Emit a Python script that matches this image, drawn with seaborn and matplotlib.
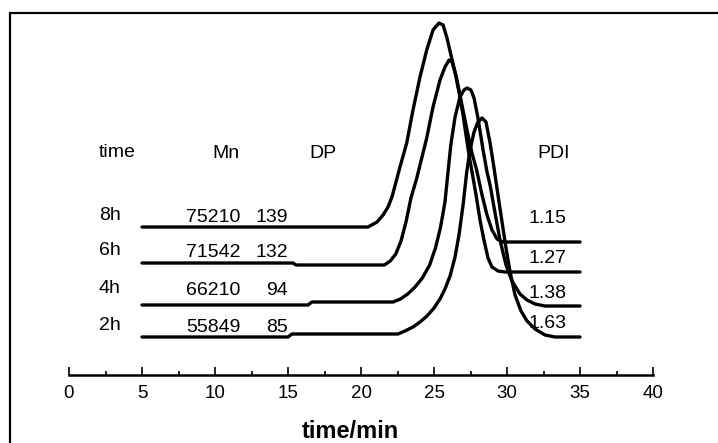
import matplotlib
matplotlib.use("Agg")
import matplotlib.pyplot as plt
from matplotlib.patches import Rectangle
from matplotlib.ticker import MultipleLocator
import seaborn as sns

# GPC traces (x = time/min, y = detector signal, offset per sample)
x_8h = [5.0, 20.48, 21.10, 21.51, 21.85, 22.12, 22.67, 23.13, 23.56, 24.04, 24.50, 24.93, 25.34,
        25.62, 25.89, 26.16, 26.44, 26.71, 26.99, 27.19, 27.40, 27.58, 27.88, 28.15, 28.42, 28.70,
        28.97, 29.38, 29.86, 35.0]
y_8h = [14.8, 14.8, 15.3, 16.0, 16.8, 17.8, 20.8, 23.2, 26.5, 29.8, 32.5, 34.5, 35.2,
        35.0, 33.7, 32.0, 30.3, 28.3, 26.0, 24.0, 22.0, 20.5, 18.0, 15.5, 13.5, 11.7,
        10.8, 10.4, 10.3, 10.3]

x_6h = [5.0, 15.34, 15.55, 21.60, 22.00, 22.38, 22.74, 23.08, 23.42, 23.82, 24.16, 24.50, 24.93,
        25.41, 25.75, 26.03, 26.23, 26.51, 26.78, 27.05, 27.33, 27.60, 27.92, 28.29, 28.63, 28.97,
        29.32, 29.73, 35.0]
y_6h = [11.2, 11.2, 11.0, 11.0, 11.4, 12.1, 13.4, 15.3, 17.7, 19.7, 21.7, 23.7, 26.8,
        29.5, 30.8, 31.5, 31.3, 29.9, 28.0, 26.0, 24.0, 22.2, 20.5, 18.0, 16.0, 14.5,
        13.6, 13.3, 13.3]

x_4h = [5.0, 16.37, 16.64, 22.20, 22.70, 23.20, 23.70, 24.20, 24.70, 25.10, 25.45, 25.75, 25.96,
        26.15, 26.44, 26.78, 27.05, 27.26, 27.53, 27.74, 28.01, 28.36, 28.63, 28.84, 29.18, 29.52,
        29.93, 30.34, 30.89, 31.37, 31.92, 32.60, 35.0]
y_4h = [7.0, 7.0, 7.3, 7.3, 7.6, 8.1, 8.8, 9.7, 11.0, 12.7, 14.8, 17.3, 20.3,
        23.0, 25.8, 27.8, 28.5, 28.7, 28.5, 27.7, 25.7, 22.5, 20.3, 19.0, 16.2, 13.5,
        11.0, 9.4, 8.1, 7.5, 7.1, 6.9, 6.9]

x_2h = [5.0, 15.0, 15.27, 22.53, 23.01, 23.56, 24.04, 24.52, 25.0, 25.41, 25.75, 26.10, 26.44,
        26.71, 26.99, 27.24, 27.47, 27.74, 28.01, 28.29, 28.56, 28.84, 29.11, 29.38, 29.66, 29.93,
        30.21, 30.55, 30.96, 31.37, 31.92, 32.60, 33.29, 35.0]
y_2h = [3.8, 3.8, 4.1, 4.1, 4.4, 4.8, 5.3, 5.9, 6.7, 7.6, 8.6, 9.9, 11.8,
        14.0, 17.0, 20.3, 22.5, 24.3, 25.3, 25.7, 25.3, 23.2, 20.7, 18.0, 15.3, 12.7,
        10.3, 8.0, 6.4, 5.4, 4.6, 4.0, 3.8, 3.8]

# table printed on the chart
times = ["8h", "6h", "4h", "2h"]
mn_vals = ["75210", "71542", "66210", "55849"]
dp_vals = ["139", "132", "94", "85"]
pdi_vals = ["1.15", "1.27", "1.38", "1.63"]
row_y = [16.0, 12.5, 8.7, 5.0]
pdi_y = [15.7, 11.7, 8.2, 5.2]

sns.set_style("white")
plt.rcParams["font.family"] = ["Liberation Sans", "DejaVu Sans"]
plt.rcParams["text.color"] = "black"
plt.rcParams["xtick.color"] = "black"
plt.rcParams["axes.labelcolor"] = "black"

fig = plt.figure(figsize=(7.18, 4.43), dpi=100)
ax = fig.add_axes([0.0961, 0.1535, 0.8134, 0.8126])

for xs, ys in [(x_8h, y_8h), (x_6h, y_6h), (x_4h, y_4h), (x_2h, y_2h)]:
    sns.lineplot(x=xs, y=ys, ax=ax, color="black", linewidth=2.4, sort=False, estimator=None)

ax.set_xlim(0, 40)
ax.set_ylim(0, 36)
sns.despine(ax=ax, left=True)
ax.spines["bottom"].set_linewidth(1.8)
ax.spines["bottom"].set_color("black")
ax.set_yticks([])
ax.xaxis.set_major_locator(MultipleLocator(5))
ax.xaxis.set_minor_locator(MultipleLocator(2.5))
ax.tick_params(axis="x", which="major", direction="in", length=5.5, width=1.2,
               color="black", labelsize=13.5, pad=7, bottom=True)
ax.tick_params(axis="x", which="minor", direction="in", length=3, width=1.2,
               color="black", bottom=True)
ax.set_xlabel("time/min", fontsize=17, fontweight="bold")
ax.xaxis.set_label_coords(0.481, -0.125)

fs = 14
ax.text(3.3, 22.3, "time", fontsize=fs, ha="center", va="center")
ax.text(10.75, 22.2, "Mn", fontsize=fs, ha="center", va="center")
ax.text(17.4, 22.2, "DP", fontsize=fs, ha="center", va="center")
ax.text(33.2, 22.2, "PDI", fontsize=fs, ha="center", va="center")
for t, mn, dp, pdi, yr, yp in zip(times, mn_vals, dp_vals, pdi_vals, row_y, pdi_y):
    ax.text(2.8, yr, t, fontsize=fs, ha="center", va="center")
    ax.text(9.9, yr - 0.2, mn, fontsize=fs, ha="center", va="center")
    ax.text(15.0, yr - 0.2, dp, fontsize=fs, ha="right", va="center")
    ax.text(32.8, yp, pdi, fontsize=fs, ha="center", va="center")

# outer frame of the original figure (cut off at right and bottom)
fig.patches.append(Rectangle((10 / 718, -0.2), 1.2, 0.2 + (443 - 12.5) / 443,
                             transform=fig.transFigure, fill=False,
                             edgecolor="black", linewidth=1.6, clip_on=False))

fig.savefig("out.png", dpi=100)
